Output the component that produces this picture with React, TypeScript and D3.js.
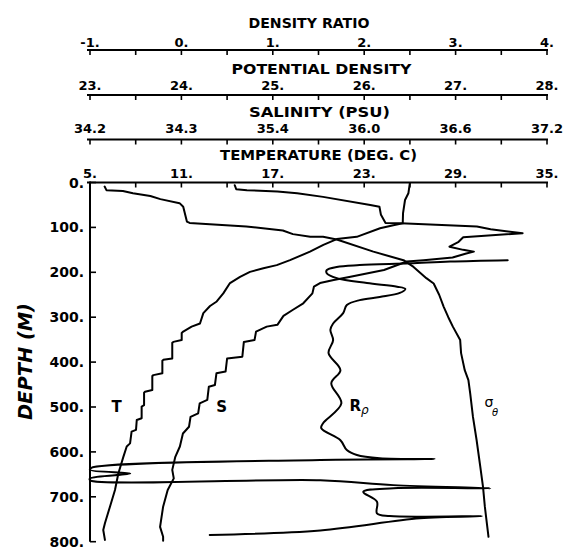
import React from "react";
import * as d3 from "d3";

// ---------- data ----------
// [depth (m), value]
const temperatureProfile: [number, number][] = [
  [1, 26.0], [24, 25.9], [39, 25.68], [68, 25.55], [91, 25.53], [95, 24.91], [102, 24.04], [121, 22.51],
  [126, 21.2], [139, 20.32], [154, 19.44], [173, 18.13], [184, 17.26], [191, 16.38], [199, 15.5], [210, 14.85],
  [224, 14.19], [247, 13.75], [265, 13.32], [275, 12.88], [291, 12.44], [314, 12.22], [321, 11.67], [332, 11.12],
  [335, 11.02], [351, 11.02], [355, 10.47], [357, 10.4], [392, 10.4], [395, 9.81], [397, 9.75], [425, 9.75],
  [429, 9.16], [431, 9.09], [462, 9.09], [466, 8.61], [468, 8.55], [496, 8.55], [499, 8.39], [525, 8.39],
  [529, 8.07], [551, 8.02], [555, 7.73], [581, 7.63], [588, 7.41], [611, 7.19], [648, 6.86], [685, 6.64],
  [722, 6.31], [759, 5.98], [774, 5.87], [796, 5.98],
];

const salinityProfile: [number, number][] = [
  [6, 35.15], [15, 35.16], [17, 35.23], [20, 35.43], [24, 35.56], [32, 35.73], [50, 36.04], [54, 36.1],
  [72, 36.11], [90, 36.14], [91, 36.24], [98, 36.74], [104, 36.83], [113, 37.04], [122, 36.65], [132, 36.62],
  [143, 36.56], [150, 36.65], [154, 36.72], [158, 36.67], [167, 36.58], [173, 36.39], [176, 36.28], [195, 36.13],
  [210, 35.91], [217, 35.8], [224, 35.71], [232, 35.67], [247, 35.66], [269, 35.6], [284, 35.53], [297, 35.47],
  [317, 35.43], [321, 35.36], [332, 35.29], [351, 35.28], [355, 35.21], [388, 35.2], [392, 35.1], [421, 35.09],
  [425, 35.03], [451, 35.02], [455, 34.98], [484, 34.97], [492, 34.92], [514, 34.91], [522, 34.86], [544, 34.85],
  [559, 34.81], [588, 34.79], [611, 34.76], [640, 34.74], [659, 34.75], [685, 34.71], [722, 34.68], [767, 34.66],
  [789, 34.68], [798, 34.68],
];

const sigmaThetaProfile: [number, number][] = [
  [9, 23.16], [17, 23.18], [19, 23.36], [24, 23.47], [30, 23.66], [37, 23.77], [46, 23.98], [54, 24.02],
  [87, 24.06], [90, 24.09], [98, 24.71], [107, 25.11], [115, 25.22], [121, 25.41], [121, 25.55], [127, 25.7],
  [154, 26.1], [173, 26.43], [188, 26.54], [213, 26.68], [225, 26.76], [250, 26.82], [277, 26.87], [300, 26.92],
  [321, 26.97], [351, 27.05], [380, 27.06], [418, 27.1], [440, 27.14], [470, 27.16], [522, 27.19], [574, 27.23],
  [633, 27.27], [678, 27.3], [722, 27.32], [789, 27.36],
];

const densityRatioProfile: [number, number][] = [
  [173, 3.57], [176, 2.94], [180, 2.5], [184, 1.95], [188, 1.7], [195, 1.59], [202, 1.59], [213, 1.7],
  [224, 2.03], [232, 2.36], [237, 2.45], [246, 2.39], [255, 2.17], [262, 1.95], [273, 1.81], [291, 1.77],
  [314, 1.66], [328, 1.63], [351, 1.66], [380, 1.61], [418, 1.74], [447, 1.64], [492, 1.75], [536, 1.55],
  [547, 1.53], [574, 1.74], [596, 1.81], [607, 1.92], [614, 2.17], [616, 2.77], [618, 1.52], [636, -0.99],
  [640, -1.0], [648, -0.56], [659, -1.0], [663, -1.0], [663, 1.52], [674, 2.32], [681, 3.38], [681, 2.32],
  [689, 1.99], [711, 2.14], [737, 2.14], [743, 2.28], [743, 3.29], [748, 2.61], [775, 1.52], [785, 0.31],
];

const densityRatioTickValues = [-1, 0, 1, 2, 3, 4];
const densityRatioTickLabels = ["-1.", "0.", "1.", "2.", "3.", "4."];
const potentialDensityTickValues = [23, 24, 25, 26, 27, 28];
const potentialDensityTickLabels = ["23.", "24.", "25.", "26.", "27.", "28."];
const salinityTickValues = [34.2, 34.8, 35.4, 36.0, 36.6, 37.2];
const salinityTickLabels = ["34.2", "34.3", "35.4", "36.0", "36.6", "37.2"];
const temperatureTickValues = [5, 11, 17, 23, 29, 35];
const temperatureTickLabels = ["5.", "11.", "17.", "23.", "29.", "35."];
const depthTickValues = [0, 100, 200, 300, 400, 500, 600, 700, 800];

// ---------- layout ----------
const W = 563;
const H = 550;
const X0 = 90;
const X1 = 547;
const Y0 = 182.5;
const Y1 = 541.7;

const yScale = d3.scaleLinear().domain([0, 800]).range([Y0, Y1]);
const tScale = d3.scaleLinear().domain([5, 35]).range([X0, X1]);
const sScale = d3.scaleLinear().domain([34.2, 37.2]).range([X0, X1]);
const sigScale = d3.scaleLinear().domain([23, 28]).range([X0, X1]);
const rScale = d3.scaleLinear().domain([-1, 4]).range([X0, X1]);

const FONT = "'DejaVu Sans', sans-serif";

function mkLine(scale: d3.ScaleLinear<number, number>, curve: d3.CurveFactory = d3.curveLinear) {
  return d3
    .line<[number, number]>()
    .x((d) => scale(d[1]))
    .y((d) => yScale(d[0]))
    .curve(curve);
}

type AxisProps = {
  scale: d3.ScaleLinear<number, number>;
  values: number[];
  labels: string[];
  lineY: number;
  labelY: number;
  title: string;
  titleY: number;
  titleX: number;
  titleLen: number;
};

function TopAxis({ scale, values, labels, lineY, labelY, title, titleY, titleX, titleLen }: AxisProps) {
  const lo = values[0];
  const hi = values[values.length - 1];
  const step = (hi - lo) / 10;
  const minor = d3.range(11).map((i) => lo + i * step);
  return (
    <g>
      <line x1={87} x2={X1 + 1} y1={lineY} y2={lineY} stroke="#000" strokeWidth={2} />
      {minor.map((v, i) => (
        <line key={i} x1={scale(v)} x2={scale(v)} y1={lineY} y2={lineY + 5} stroke="#000" strokeWidth={1.6} />
      ))}
      {values.map((v, i) => (
        <text
          key={i}
          x={scale(v)}
          y={labelY}
          textAnchor="middle"
          fontFamily={FONT}
          fontWeight="bold"
          fontSize={13}
          fill="#000"
        >
          {labels[i]}
        </text>
      ))}
      <text
        x={titleX}
        y={titleY}
        textAnchor="middle"
        fontFamily={FONT}
        fontWeight="bold"
        fontSize={14.5}
        textLength={titleLen}
        lengthAdjust="spacingAndGlyphs"
        fill="#000"
      >
        {title}
      </text>
    </g>
  );
}

export default function App() {
  const tLine = mkLine(tScale);
  const sLine = mkLine(sScale);
  const sigLine = mkLine(sigScale);
  const rLine = mkLine(rScale, d3.curveCatmullRom.alpha(0.5));

  return (
    <svg
      width={W}
      height={H}
      viewBox={`0 0 ${W} ${H}`}
      style={{ position: "absolute", left: 0, top: 0, background: "#fff" }}
    >
      <rect x={0} y={0} width={W} height={H} fill="#fff" />
      <TopAxis
        scale={rScale}
        values={densityRatioTickValues}
        labels={densityRatioTickLabels}
        lineY={50}
        labelY={46.5}
        title="DENSITY RATIO"
        titleY={28.3}
        titleX={309}
        titleLen={121}
      />
      <TopAxis
        scale={sigScale}
        values={potentialDensityTickValues}
        labels={potentialDensityTickLabels}
        lineY={95}
        labelY={89.5}
        title="POTENTIAL DENSITY"
        titleY={73.5}
        titleX={321.5}
        titleLen={180}
      />
      <TopAxis
        scale={sScale}
        values={salinityTickValues}
        labels={salinityTickLabels}
        lineY={139.5}
        labelY={133}
        title="SALINITY  (PSU)"
        titleY={116.7}
        titleX={319.5}
        titleLen={141}
      />
      <TopAxis
        scale={tScale}
        values={temperatureTickValues}
        labels={temperatureTickLabels}
        lineY={Y0}
        labelY={178}
        title="TEMPERATURE (DEG. C)"
        titleY={160}
        titleX={318.5}
        titleLen={197}
      />

      {/* left depth axis */}
      <line x1={X0} x2={X0} y1={Y0 - 1} y2={Y1} stroke="#000" strokeWidth={2} />
      {depthTickValues.map((d) => (
        <g key={d}>
          <line x1={X0} x2={X0 + 6} y1={yScale(d)} y2={yScale(d)} stroke="#000" strokeWidth={1.6} />
          <text
            x={84}
            y={yScale(d) + 5}
            textAnchor="end"
            fontFamily={FONT}
            fontWeight="bold"
            fontSize={14}
            fill="#000"
          >
            {`${d}.`}
          </text>
        </g>
      ))}
      <text
        transform={`translate(31.5, 361.5) rotate(-90)`}
        textAnchor="middle"
        fontFamily={FONT}
        fontWeight="bold"
        fontStyle="italic"
        fontSize={19}
        textLength={117}
        lengthAdjust="spacingAndGlyphs"
        fill="#000"
      >
        DEPTH (M)
      </text>

      {/* profiles */}
      <g fill="none" stroke="#000" strokeWidth={2} strokeLinejoin="round" strokeLinecap="round">
        <path d={sigLine(sigmaThetaProfile) ?? ""} />
        <path d={tLine(temperatureProfile) ?? ""} />
        <path d={sLine(salinityProfile) ?? ""} />
        <path d={rLine(densityRatioProfile) ?? ""} />
      </g>

      {/* curve labels */}
      <text x={116.7} y={411.7} textAnchor="middle" fontFamily={FONT} fontWeight="bold" fontSize={15} fill="#000">
        T
      </text>
      <text x={221.7} y={411.7} textAnchor="middle" fontFamily={FONT} fontWeight="bold" fontSize={15} fill="#000">
        S
      </text>
      <text x={349.5} y={410.5} fontFamily={FONT} fontWeight="bold" fontSize={15} fill="#000">
        R
      </text>
      <text x={361} y={414} fontFamily={FONT} fontStyle="italic" fontSize={12} fill="#000">
        ρ
      </text>
      <text x={484.5} y={406.5} fontFamily={FONT} fontSize={14} fill="#000">
        σ
      </text>
      <text x={492} y={416} fontFamily={FONT} fontStyle="italic" fontSize={10} fill="#000">
        θ
      </text>
    </svg>
  );
}
